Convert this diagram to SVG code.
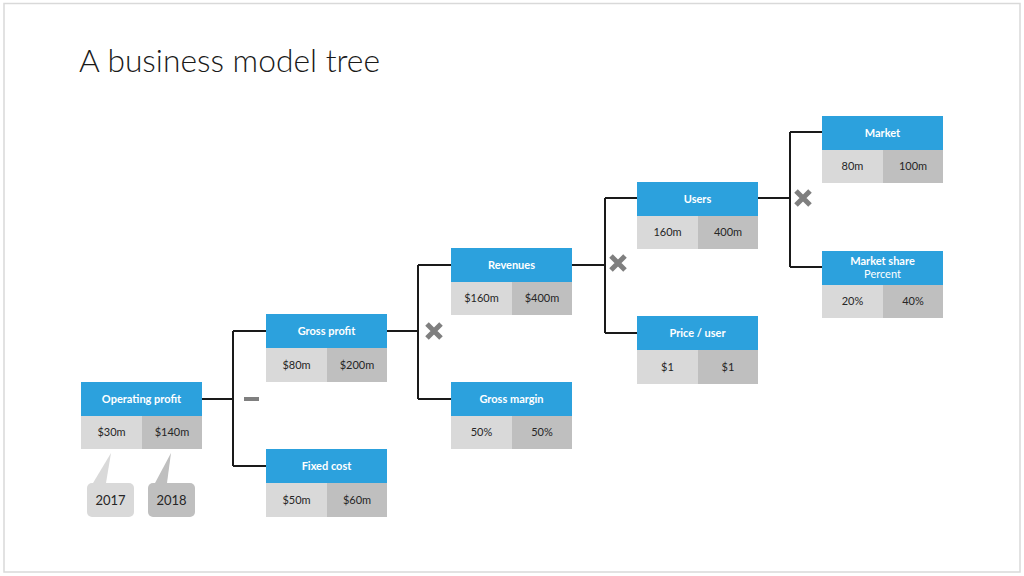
<svg xmlns="http://www.w3.org/2000/svg" width="1024" height="576" viewBox="0 0 1024 576">
<style>
.hd{fill:#2ca1dd}
.v1{fill:#d9d9d9}
.v2{fill:#bfbfbf}
.ht{font-family:Lato,"Open Sans",sans-serif;font-weight:bold;font-size:11px;fill:#ffffff;text-anchor:middle}
.hs{font-family:Lato,"Open Sans",sans-serif;font-size:11px;fill:#ffffff;text-anchor:middle}
.vt{font-family:Lato,"Open Sans",sans-serif;font-size:11px;fill:#262626;text-anchor:middle}
.ct{font-family:Lato,"Open Sans",sans-serif;font-size:13px;fill:#262626;text-anchor:middle}
.cn{fill:none;stroke:#1a1a1a;stroke-width:2}
.op{stroke:#7f7f7f;stroke-width:5;fill:none}
</style>
<rect x="0" y="0" width="1024" height="576" fill="#ffffff"/>
<rect x="4" y="3.5" width="1016" height="568.5" fill="none" stroke="#d9d9d9" stroke-width="1.5"/>
<text x="79" y="72" font-family="Lato,'Open Sans',sans-serif" font-weight="300" font-size="31" fill="#1a1a1a" textLength="301" lengthAdjust="spacingAndGlyphs">A business model tree</text>

<g id="connectors">
<path class="cn" d="M201 399H233M233 331V466M233 331H266M233 466H266"/>
<path class="cn" d="M387 331H418M418 265V399M418 265H451M418 399H451"/>
<path class="cn" d="M572 265H605M605 198V333M605 198H637M605 333H637"/>
<path class="cn" d="M758 198H790M790 132V267M790 132H822M790 267H822"/>
<rect x="244" y="397" width="15" height="4" fill="#7f7f7f"/>
<path class="op" d="M427 324L441 338M441 324L427 338"/>
<path class="op" d="M611 256L625 270M625 256L611 270"/>
<path class="op" d="M796 191L810 205M810 191L796 205"/>
</g>

<g id="operating-profit">
<rect class="hd" x="81" y="382" width="121" height="34"/>
<rect class="v1" x="81" y="416" width="61" height="33"/>
<rect class="v2" x="142" y="416" width="60" height="33"/>
<text class="ht" x="141.5" y="403">Operating profit</text>
<text class="vt" x="111.5" y="436">$30m</text>
<text class="vt" x="172" y="436">$140m</text>
</g>

<g id="callout-2017">
<path d="M93 483L111 453L106 483Z" fill="#d9d9d9"/>
<rect x="87" y="483" width="47" height="34" rx="5" fill="#d9d9d9"/>
<text class="ct" x="110.5" y="505">2017</text>
</g>
<g id="callout-2018">
<path d="M155 483L171 453L167 483Z" fill="#bfbfbf"/>
<rect x="148" y="483" width="47" height="34" rx="5" fill="#bfbfbf"/>
<text class="ct" x="171.5" y="505">2018</text>
</g>

<g id="gross-profit">
<rect class="hd" x="266" y="314" width="121" height="34"/>
<rect class="v1" x="266" y="348" width="61" height="34"/>
<rect class="v2" x="327" y="348" width="60" height="34"/>
<text class="ht" x="326.5" y="335">Gross profit</text>
<text class="vt" x="296.5" y="369">$80m</text>
<text class="vt" x="357" y="369">$200m</text>
</g>

<g id="fixed-cost">
<rect class="hd" x="266" y="449" width="121" height="34"/>
<rect class="v1" x="266" y="483" width="61" height="34"/>
<rect class="v2" x="327" y="483" width="60" height="34"/>
<text class="ht" x="326.5" y="470">Fixed cost</text>
<text class="vt" x="296.5" y="504">$50m</text>
<text class="vt" x="357" y="504">$60m</text>
</g>

<g id="revenues">
<rect class="hd" x="451" y="248" width="121" height="34"/>
<rect class="v1" x="451" y="282" width="61" height="33"/>
<rect class="v2" x="512" y="282" width="60" height="33"/>
<text class="ht" x="511.5" y="269">Revenues</text>
<text class="vt" x="481.5" y="302">$160m</text>
<text class="vt" x="542" y="302">$400m</text>
</g>

<g id="gross-margin">
<rect class="hd" x="451" y="382" width="121" height="34"/>
<rect class="v1" x="451" y="416" width="61" height="33"/>
<rect class="v2" x="512" y="416" width="60" height="33"/>
<text class="ht" x="511.5" y="403">Gross margin</text>
<text class="vt" x="481.5" y="436">50%</text>
<text class="vt" x="542" y="436">50%</text>
</g>

<g id="users">
<rect class="hd" x="637" y="182" width="121" height="34"/>
<rect class="v1" x="637" y="216" width="61" height="33"/>
<rect class="v2" x="698" y="216" width="60" height="33"/>
<text class="ht" x="697.5" y="203">Users</text>
<text class="vt" x="667.5" y="236">160m</text>
<text class="vt" x="728" y="236">400m</text>
</g>

<g id="price-user">
<rect class="hd" x="637" y="316" width="121" height="34"/>
<rect class="v1" x="637" y="350" width="61" height="34"/>
<rect class="v2" x="698" y="350" width="60" height="34"/>
<text class="ht" x="697.5" y="337">Price / user</text>
<text class="vt" x="667.5" y="371">$1</text>
<text class="vt" x="728" y="371">$1</text>
</g>

<g id="market">
<rect class="hd" x="822" y="116" width="121" height="34"/>
<rect class="v1" x="822" y="150" width="61" height="33"/>
<rect class="v2" x="883" y="150" width="60" height="33"/>
<text class="ht" x="882.5" y="137">Market</text>
<text class="vt" x="852.5" y="170">80m</text>
<text class="vt" x="913" y="170">100m</text>
</g>

<g id="market-share">
<rect class="hd" x="822" y="251" width="121" height="34"/>
<rect class="v1" x="822" y="285" width="61" height="33"/>
<rect class="v2" x="883" y="285" width="60" height="33"/>
<text class="ht" x="882.5" y="265">Market share</text>
<text class="hs" x="882.5" y="278">Percent</text>
<text class="vt" x="852.5" y="305">20%</text>
<text class="vt" x="913" y="305">40%</text>
</g>
</svg>
